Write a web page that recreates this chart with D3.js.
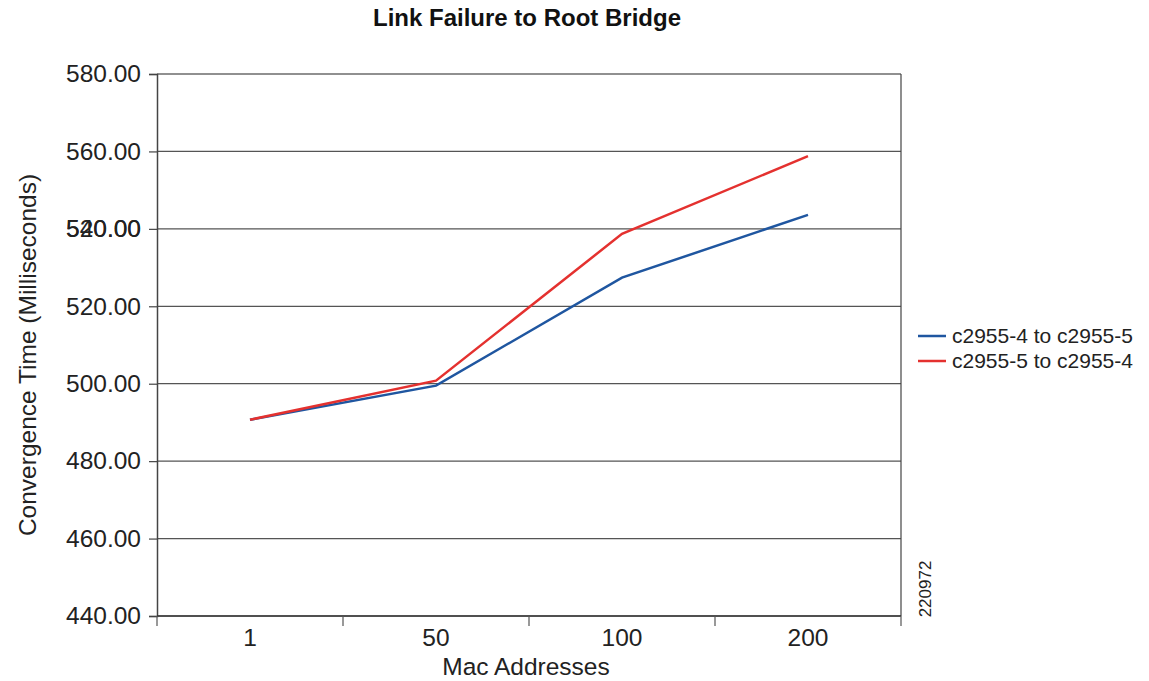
<!DOCTYPE html>
<html>
<head>
<meta charset="utf-8">
<script src="https://cdn.jsdelivr.net/npm/d3@7"></script>
<style>
  body { margin: 0; background: #fff; }
  svg { font-family: "Liberation Sans", Arial, Helvetica, sans-serif; }
</style>
</head>
<body>
<div id="chart"></div>
<script>
// data
var categories = ["1", "50", "100", "200"];
var seriesNames = ["c2955-4 to c2955-5", "c2955-5 to c2955-4"];
var blueValues = [490.7, 499.5, 527.4, 543.6];
var redValues = [490.7, 500.8, 538.7, 558.8];
var yTicks = [440, 460, 480, 500, 520, 540, 560, 580];
var seriesColors = ["#1f56a0", "#e4312f"];

var width = 1149, height = 681;
var margin = {left: 157, right: 248, top: 74, bottom: 65};

var svg = d3.select("#chart").append("svg")
  .attr("width", width)
  .attr("height", height);

var x = d3.scaleBand()
  .domain(categories)
  .range([margin.left, width - margin.right]);

var y = d3.scaleLinear()
  .domain([440, 580])
  .range([height - margin.bottom, margin.top]);

// grid lines
svg.append("g")
  .selectAll("line")
  .data(yTicks)
  .enter().append("line")
  .attr("x1", margin.left)
  .attr("x2", width - margin.right)
  .attr("y1", d => y(d))
  .attr("y2", d => y(d))
  .attr("stroke", d => d == 580 ? "#222" : "#555")
  .attr("stroke-width", 1.2);

// right border
svg.append("line")
  .attr("x1", width - margin.right).attr("x2", width - margin.right)
  .attr("y1", margin.top).attr("y2", height - margin.bottom)
  .attr("stroke", "#444").attr("stroke-width", 1.2);

// y axis
var yAxis = svg.append("g")
  .attr("transform", "translate(" + margin.left + ",0)")
  .call(d3.axisLeft(y).tickValues(yTicks).tickSize(8).tickPadding(8)
    .tickFormat(d3.format(".2f")));
yAxis.select(".domain").attr("stroke", "#444").attr("stroke-width", 1.5);
yAxis.selectAll(".tick line").attr("stroke", "#444").attr("stroke-width", 1.2);
yAxis.selectAll(".tick text")
  .attr("font-size", 24.5)
  .attr("fill", "#222");
// the print shows 520.00 overprinted on the 540 label
yAxis.selectAll(".tick").filter(d => d == 540)
  .append("text")
  .attr("x", -16).attr("dy", "0.32em")
  .attr("text-anchor", "end")
  .attr("font-size", 24.5)
  .attr("fill", "#222")
  .text(d3.format(".2f")(520));

// x axis (ticks between categories)
var xAxisG = svg.append("g")
  .attr("transform", "translate(0," + (height - margin.bottom) + ")");
var bounds = categories.map(c => x(c)).concat([width - margin.right]);
xAxisG.append("line")
  .attr("x1", margin.left).attr("x2", width - margin.right)
  .attr("stroke", "#333").attr("stroke-width", 1.5);
xAxisG.selectAll(".xtick")
  .data(bounds)
  .enter().append("line")
  .attr("x1", d => d).attr("x2", d => d)
  .attr("y1", 0).attr("y2", 10)
  .attr("stroke", "#555").attr("stroke-width", 1.2);
xAxisG.selectAll(".xlabel")
  .data(categories)
  .enter().append("text")
  .attr("x", d => x(d) + x.bandwidth() / 2)
  .attr("y", 30)
  .attr("text-anchor", "middle")
  .attr("font-size", 24.5)
  .attr("fill", "#222")
  .text(d => d);

// lines
var line = d3.line()
  .x((d, i) => x(categories[i]) + x.bandwidth() / 2)
  .y(d => y(d));

[blueValues, redValues].forEach(function (vals, i) {
  svg.append("path")
    .datum(vals)
    .attr("d", line)
    .attr("fill", "none")
    .attr("stroke", seriesColors[i])
    .attr("stroke-width", 2.5);
});

// title
svg.append("text")
  .attr("x", (margin.left + width - margin.right) / 2 - 2)
  .attr("y", 26)
  .attr("text-anchor", "middle")
  .attr("font-size", 24)
  .attr("font-weight", "bold")
  .attr("fill", "#111")
  .text("Link Failure to Root Bridge");

// axis titles
svg.append("text")
  .attr("x", (margin.left + width - margin.right) / 2 - 3)
  .attr("y", 675)
  .attr("text-anchor", "middle")
  .attr("font-size", 24.5)
  .attr("fill", "#222")
  .text("Mac Addresses");

svg.append("text")
  .attr("transform", "translate(36," + 355 + ") rotate(-90)")
  .attr("text-anchor", "middle")
  .attr("font-size", 24.5)
  .attr("fill", "#222")
  .text("Convergence Time (Milliseconds)");

// legend
var legend = svg.append("g");
seriesNames.forEach(function (name, i) {
  var ly = 336 + i * 25;
  legend.append("line")
    .attr("x1", 918).attr("x2", 946)
    .attr("y1", ly).attr("y2", ly)
    .attr("stroke", seriesColors[i])
    .attr("stroke-width", 2.5);
  legend.append("text")
    .attr("x", 952).attr("y", ly)
    .attr("dy", "0.35em")
    .attr("font-size", 21)
    .attr("fill", "#222")
    .text(name);
});

// figure id
svg.append("text")
  .attr("transform", "translate(931,589) rotate(-90)")
  .attr("text-anchor", "middle")
  .attr("font-size", 17)
  .attr("fill", "#222")
  .text("220972");
</script>
</body>
</html>
